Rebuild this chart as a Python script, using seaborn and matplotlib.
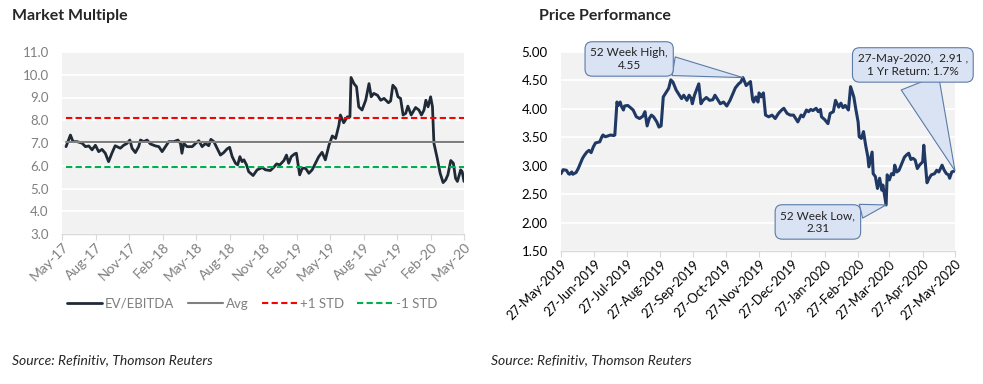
import numpy as np
import pandas as pd
import matplotlib
matplotlib.use("Agg")
import matplotlib.pyplot as plt
import matplotlib.dates as mdates
import seaborn as sns

# ---- Market multiple (EV/EBITDA) ----
mm_dates = ['2017-05-12', '2017-05-24', '2017-05-31', '2017-06-11', '2017-06-25', '2017-07-04',
            '2017-07-13', '2017-07-22', '2017-07-31', '2017-08-09', '2017-08-18', '2017-08-27',
            '2017-09-05', '2017-09-14', '2017-09-23', '2017-10-07', '2017-10-16', '2017-10-25',
            '2017-11-02', '2017-11-08', '2017-11-17', '2017-11-26', '2017-12-01', '2017-12-10',
            '2017-12-19', '2017-12-28', '2018-01-11', '2018-01-20', '2018-01-29', '2018-02-07',
            '2018-02-16', '2018-03-02', '2018-03-13', '2018-03-20', '2018-03-24', '2018-03-29',
            '2018-04-07', '2018-04-21', '2018-04-30', '2018-05-09', '2018-05-18', '2018-05-27',
            '2018-06-05', '2018-06-11', '2018-06-19', '2018-06-28', '2018-07-07', '2018-07-16',
            '2018-07-25', '2018-08-01', '2018-08-08', '2018-08-17', '2018-08-23', '2018-08-29',
            '2018-09-04', '2018-09-09', '2018-09-16', '2018-09-22', '2018-10-04', '2018-10-15',
            '2018-10-29', '2018-11-07', '2018-11-20', '2018-11-29', '2018-12-07', '2018-12-16',
            '2018-12-27', '2019-01-03', '2019-01-09', '2019-01-16', '2019-01-25', '2019-01-30',
            '2019-02-08', '2019-02-15', '2019-02-24', '2019-03-05', '2019-03-14', '2019-03-23',
            '2019-04-01', '2019-04-10', '2019-04-19', '2019-04-29', '2019-05-08', '2019-05-17',
            '2019-05-26', '2019-05-30', '2019-06-08', '2019-06-18', '2019-06-25', '2019-06-28',
            '2019-07-06', '2019-07-13', '2019-07-19', '2019-07-28', '2019-08-07', '2019-08-16',
            '2019-08-22', '2019-08-29', '2019-09-08', '2019-09-17', '2019-09-26', '2019-10-08',
            '2019-10-14', '2019-10-20', '2019-10-28', '2019-11-03', '2019-11-10', '2019-11-17',
            '2019-11-24', '2019-11-30', '2019-12-09', '2019-12-21', '2019-12-30', '2020-01-06',
            '2020-01-13', '2020-01-18', '2020-01-24', '2020-01-31', '2020-02-05', '2020-02-09',
            '2020-02-18', '2020-02-26', '2020-03-05', '2020-03-12', '2020-03-18', '2020-03-26',
            '2020-04-02', '2020-04-08', '2020-04-13', '2020-04-22', '2020-04-26', '2020-05-01']
ev_ebitda = [6.84, 7.35, 7.06, 7.06, 6.99, 6.84, 6.87, 6.70, 6.90, 6.62,
             6.72, 6.55, 6.18, 6.55, 6.88, 6.77, 6.90, 6.98, 7.13, 6.77,
             6.58, 6.84, 7.13, 7.06, 7.13, 6.96, 6.87, 6.84, 6.62, 6.84,
             7.06, 7.06, 7.13, 6.98, 6.55, 6.98, 6.84, 6.84, 6.98, 7.10,
             6.84, 6.98, 6.88, 7.16, 7.06, 6.77, 6.47, 6.58, 6.74, 6.81,
             6.40, 6.11, 6.04, 6.40, 6.18, 6.26, 6.04, 5.74, 5.57, 5.82,
             5.92, 5.82, 5.79, 5.93, 6.08, 6.04, 6.23, 6.47, 6.11, 6.40,
             6.52, 6.55, 5.60, 5.89, 5.89, 5.67, 5.82, 6.11, 6.40, 6.59,
             6.26, 6.91, 7.31, 7.20, 7.79, 8.23, 7.89, 8.15, 8.15, 9.88,
             9.61, 9.47, 8.59, 8.45, 8.88, 9.61, 9.03, 9.18, 9.10, 8.88,
             8.96, 8.77, 8.85, 9.54, 9.39, 9.03, 8.96, 8.23, 8.30, 8.62,
             8.23, 8.56, 8.45, 8.23, 8.45, 8.88, 8.59, 9.03, 8.59, 6.99,
             6.33, 5.67, 5.26, 5.38, 5.60, 6.23, 6.11, 5.45, 5.31, 5.82,
             5.74, 5.31]
mm_avg = 7.04
mm_plus_std = 8.12
mm_minus_std = 5.96

# ---- Price performance, days after 27-May-2019 ----
pp_start = '2019-05-27'
pp_days = [0, 2, 5, 7, 8, 10, 11, 14, 16, 18, 20, 22, 24, 26, 28, 30, 32, 36, 38, 39,
           41, 43, 46, 49, 50, 52, 53, 55, 56, 58, 59, 62, 64, 67, 70, 73, 76, 78, 80, 82,
           84, 86, 89, 91, 93, 95, 97, 100, 102, 104, 107, 109, 112, 114, 117, 119, 121, 122, 124, 128,
           130, 132, 135, 138, 141, 143, 146, 148, 151, 154, 157, 159, 162, 165, 167, 169, 172, 176, 178, 179,
           181, 183, 184, 186, 188, 190, 193, 196, 199, 202, 205, 207, 210, 213, 216, 218, 220, 223, 225, 228,
           230, 232, 234, 237, 239, 241, 242, 245, 248, 250, 253, 255, 258, 260, 262, 264, 267, 269, 272, 274,
           276, 277, 279, 281, 283, 285, 286, 289, 290, 292, 294, 296, 298, 299, 302, 303, 305, 307, 309, 310,
           312, 314, 316, 319, 321, 323, 325, 327, 329, 331, 333, 336, 337, 340, 342, 344, 347, 349, 351, 354,
           356, 358, 360, 361, 363, 366]
pp_price = [2.86, 2.93, 2.92, 2.86, 2.85, 2.89, 2.85, 2.88, 2.95, 3.04,
            3.13, 3.19, 3.24, 3.27, 3.23, 3.33, 3.40, 3.42, 3.51, 3.54,
            3.51, 3.52, 3.54, 3.53, 3.54, 4.12, 4.06, 4.12, 4.05, 3.98,
            4.05, 4.06, 4.03, 3.98, 3.86, 3.83, 3.87, 3.95, 3.70, 3.83,
            3.89, 3.86, 3.77, 3.68, 3.70, 4.21, 4.27, 4.36, 4.51, 4.47,
            4.33, 4.27, 4.18, 4.24, 4.15, 4.24, 4.18, 4.09, 4.24, 4.44,
            4.09, 4.15, 4.20, 4.15, 4.16, 4.24, 4.15, 4.09, 4.12, 4.05,
            4.15, 4.24, 4.37, 4.44, 4.47, 4.55, 4.41, 4.48, 4.16, 4.12,
            4.21, 4.12, 4.28, 4.21, 4.28, 3.89, 3.86, 3.89, 3.83, 3.92,
            3.98, 4.01, 3.92, 3.89, 3.89, 3.83, 3.77, 3.89, 3.86, 3.98,
            3.95, 3.99, 3.97, 4.01, 3.95, 3.99, 3.86, 3.81, 3.74, 3.92,
            3.95, 4.15, 4.03, 4.10, 4.02, 4.06, 3.98, 4.39, 4.21, 3.98,
            3.77, 3.51, 3.48, 3.60, 3.36, 3.16, 2.98, 3.24, 2.86, 2.81,
            2.60, 2.78, 2.57, 2.66, 2.31, 2.84, 2.75, 2.86, 2.84, 3.01,
            2.89, 2.92, 3.01, 3.15, 3.19, 3.22, 3.11, 3.13, 3.10, 2.95,
            3.01, 3.07, 3.36, 2.70, 2.78, 2.84, 2.86, 2.92, 2.89, 3.01,
            2.92, 2.86, 2.84, 2.78, 2.89, 2.91]

# ---- style ----
sns.set_style("white", rc={"axes.facecolor": "#F2F2F2", "axes.edgecolor": "#D9D9D9"})
plt.rcParams["font.family"] = ["Lato", "DejaVu Sans"]

fig = plt.figure(figsize=(9.83, 3.84), dpi=100)
W, H = 983, 384
ax1 = fig.add_axes([62 / W, 150 / H, 402 / W, 182 / H])
ax2 = fig.add_axes([561 / W, 133 / H, 394 / W, 199 / H])

# ---- left: market multiple ----
mm = pd.DataFrame({"date": pd.to_datetime(mm_dates), "value": ev_ebitda})
ends = mm["date"].iloc[[0, -1]].tolist()

sns.lineplot(data=mm, x="date", y="value", ax=ax1, color="#1F2A36", lw=2.0,
             label="EV/EBITDA")
sns.lineplot(x=ends, y=[mm_avg, mm_avg], ax=ax1, color="#7F7F7F", lw=1.5, label="Avg")
sns.lineplot(x=ends, y=[mm_plus_std, mm_plus_std], ax=ax1, color="#FF0000", lw=1.5,
             linestyle=(0, (3, 1.6)), label="+1 STD")
sns.lineplot(x=ends, y=[mm_minus_std, mm_minus_std], ax=ax1, color="#00B050", lw=1.5,
             linestyle=(0, (3, 1.6)), label="-1 STD")

ax1.set_xlim(pd.Timestamp("2017-05-01"), pd.Timestamp("2020-05-01"))
ax1.set_ylim(3, 11)
ax1.set_yticks(np.arange(3, 11.1, 1))
ax1.yaxis.set_major_formatter(plt.FormatStrFormatter("%.1f"))
ax1.xaxis.set_major_locator(mdates.MonthLocator(bymonth=[2, 5, 8, 11]))
ax1.xaxis.set_major_formatter(mdates.DateFormatter("%b-%y"))

leg = ax1.legend(loc="center", bbox_to_anchor=(252 / W, 1 - 304 / H),
                 bbox_transform=fig.transFigure, ncol=4, frameon=False,
                 fontsize=9.5, handlelength=2.7, columnspacing=1.0, handletextpad=0.2)
for t in leg.get_texts():
    t.set_color("#7F7F7F")

# ---- right: price performance ----
pp = pd.DataFrame({"date": pd.Timestamp(pp_start) + pd.to_timedelta(pp_days, unit="D"),
                   "price": pp_price})
sns.lineplot(data=pp, x="date", y="price", ax=ax2, color="#1F3864", lw=2.2)

ax2.set_xlim(pp["date"].iloc[0], pp["date"].iloc[-1])
ax2.set_ylim(1.5, 5.0)
ax2.set_yticks(np.arange(1.5, 5.01, 0.5))
ax2.yaxis.set_major_formatter(plt.FormatStrFormatter("%.2f"))
ax2.xaxis.set_major_locator(mdates.DayLocator(bymonthday=27))
ax2.xaxis.set_major_formatter(mdates.DateFormatter("%d-%b-%Y"))

# callouts
box = dict(boxstyle="round,pad=0.45,rounding_size=0.6", fc="#DAE3F3", ec="#5B7BA8", lw=0.8)


def callout(ax, text, i, xytext, tail):
    ax.annotate(text, xy=(mdates.date2num(pp["date"].iloc[i]), pp["price"].iloc[i]),
                xytext=xytext, textcoords="axes fraction", ha="center", va="center",
                fontsize=8.5, color="#222222", bbox=box, annotation_clip=False,
                arrowprops=dict(arrowstyle=f"wedge,tail_width={tail},shrink_factor=0.5",
                                fc="#DAE3F3", ec="#5B7BA8", lw=0.8, shrinkA=0, shrinkB=0))


hi = int(np.argmax(pp["price"].values))
lo = int(np.argmin(pp["price"].values))
last = len(pp) - 1
ret = pp["price"].iloc[-1] / pp["price"].iloc[0] - 1
callout(ax2, f"52 Week High,\n{pp['price'].iloc[hi]:.2f}", hi, (0.173, 0.965), 1.6)
callout(ax2, f"52 Week Low,\n{pp['price'].iloc[lo]:.2f}", lo, (0.652, 0.146), 1.2)
callout(ax2, f"{pp['date'].iloc[-1]:%d-%b-%Y},  {pp['price'].iloc[-1]:.2f} ,\n"
             f"1 Yr Return: {ret:.1%}", last, (0.893, 0.935), 3.4)

# ---- common axis styling ----
for ax, lab_color, xsize in ((ax1, "#7F7F7F", 10), (ax2, "#000000", 9.3)):
    ax.set_xlabel("")
    ax.set_ylabel("")
    ax.yaxis.grid(True, color="white", lw=1.3)
    ax.set_axisbelow(True)
    for s in ("left", "top", "right"):
        ax.spines[s].set_visible(False)
    ax.spines["bottom"].set_color("#D9D9D9")
    ax.spines["bottom"].set_linewidth(1.0)
    ax.tick_params(axis="x", bottom=True, length=4, color="#D9D9D9", labelsize=xsize,
                   labelcolor=lab_color, pad=1)
    ax.tick_params(axis="y", left=False, labelsize=9.5, labelcolor=lab_color, pad=6)
    for lbl in ax.get_xticklabels():
        lbl.set_rotation(45)
        lbl.set_ha("right")
        lbl.set_rotation_mode("anchor")

# titles and sources
fig.text(12 / W, 1 - 16 / H, "Market Multiple", fontsize=11.5, fontweight="bold", va="center")
fig.text(539 / W, 1 - 16 / H, "Price Performance", fontsize=11.5, fontweight="bold", va="center")
fig.text(12 / W, 1 - 360 / H, "Source: Refinitiv, Thomson Reuters", fontsize=10, style="italic",
         va="center")
fig.text(491 / W, 1 - 360 / H, "Source: Refinitiv, Thomson Reuters", fontsize=10, style="italic",
         va="center")

fig.savefig("out.png", dpi=100)
